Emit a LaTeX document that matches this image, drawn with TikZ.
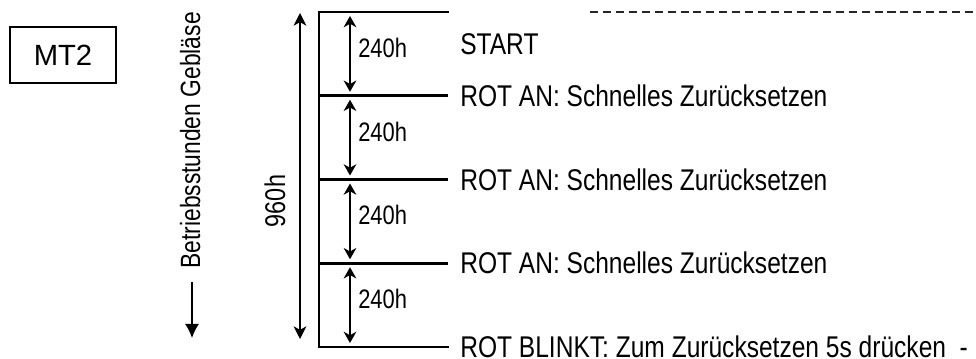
\documentclass[tikz,border=0pt]{standalone}
\usepackage{fontspec}
\setmainfont{Liberation Sans}
\newfontfamily\narrowfont{Liberation Sans}[FakeStretch=0.82]
\usetikzlibrary{arrows.meta}

\tikzset{
	level/.style={line width=2pt},
	span/.style={{Stealth[length=8pt,width=9pt,inset=2.5pt]}-{Stealth[length=8pt,width=9pt,inset=2.5pt]}, line width=1.2pt, shorten >=0.1cm, shorten <=0.1cm},
	msg/.style={anchor=base west, inner sep=0pt, font=\narrowfont\fontsize{21.3}{25}\selectfont},
	hours/.style={anchor=base west, inner sep=0pt, font=\narrowfont\fontsize{19}{23}\selectfont}
}

\begin{document}
\begin{tikzpicture}
		\tikzstyle{every node}=[font=\narrowfont\fontsize{19.8}{24}\selectfont]
		\useasboundingbox (0,0) rectangle (24.4,8.95);
		
		% Typ
		\node[draw, line width=1pt, minimum width=2.65cm, minimum height=1.4cm, font=\fontsize{20.8}{24}\selectfont] (mt) at (1.575,7.575) {MT2};
		
		% Achse Betriebsstunden
		\node[rotate=90, anchor=base, inner sep=0pt] (gebl) at (5.0,5.44) {Betriebsstunden Gebläse};
		\coordinate (dirtop) at (4.8,1.9);
		\coordinate (dirbot) at (4.8,0.5);
		\draw [-{Latex[length=10pt,width=10pt]}, line width=1pt] (dirtop) -- (dirbot);
		
		% Gesamtdauer
		\coordinate (ttop) at (7.5,8.625);
		\coordinate (tbot) at (7.5,0.475);
		\draw [line width=2pt, color=gray!55] (7.5,5.9) -- (7.5,3.325);
		\draw [{Stealth[length=9pt,width=9pt,inset=2.5pt]}-{Stealth[length=9pt,width=9pt,inset=2.5pt]}, line width=1pt] (ttop) -- (tbot);
		\node[rotate=90, anchor=base, inner sep=0pt, font=\narrowfont\fontsize{20.3}{24}\selectfont] (total) at (7.125,3.925) {960h};
		
		% Stufen
		\coordinate (s0) at (7.975,8.65);
		\coordinate (s1) at (7.975,6.556);
		\coordinate (s2) at (7.975,4.4625);
		\coordinate (s3) at (7.975,2.369);
		\coordinate (s4) at (7.975,0.275);
		\coordinate (e0) at (11.2,8.65);
		\coordinate (e1) at (11.2,6.556);
		\coordinate (e2) at (11.2,4.4625);
		\coordinate (e3) at (11.2,2.369);
		\coordinate (e4) at (11.2,0.275);
		\draw [level, line cap=rect] (e0) -- (s0) -- (s4) -- (e4);
		\draw [level] (s1) -- (e1);
		\draw [level] (s2) -- (e2);
		\draw [level] (s3) -- (e3);
		
		\coordinate (a0) at (8.75,8.65);
		\coordinate (a1) at (8.75,6.556);
		\coordinate (a2) at (8.75,4.4625);
		\coordinate (a3) at (8.75,2.369);
		\coordinate (a4) at (8.75,0.275);
		\draw [span] (a0) -- (a1);
		\draw [span] (a1) -- (a2);
		\draw [span] (a2) -- (a3);
		\draw [span] (a3) -- (a4);
		
		\node[hours] (h1) at (8.95,7.513) {240h};
		\node[hours] (h2) at (8.95,5.419) {240h};
		\node[hours] (h3) at (8.95,3.326) {240h};
		\node[hours] (h4) at (8.95,1.232) {240h};
		
		% Meldungen
		\node[msg] (start) at (11.5,7.575) {START};
		\node[msg] (rot1) at (11.5,6.29) {ROT AN: Schnelles Zurücksetzen};
		\node[msg] (rot2) at (11.5,4.197) {ROT AN: Schnelles Zurücksetzen};
		\node[msg] (rot3) at (11.5,2.104) {ROT AN: Schnelles Zurücksetzen};
		\node[msg] (blink) at (11.5,0.02) {ROT BLINKT: Zum Zurücksetzen 5s drücken\ \ -};
		
		\coordinate (dl) at (14.75,8.65);
		\coordinate (dr) at (24.4,8.65);
		\draw [dashed, dash pattern=on 5.7pt off 3.5pt, line width=1.2pt, color=black!85] (dl) -- (dr);
		
\end{tikzpicture}
\end{document}
